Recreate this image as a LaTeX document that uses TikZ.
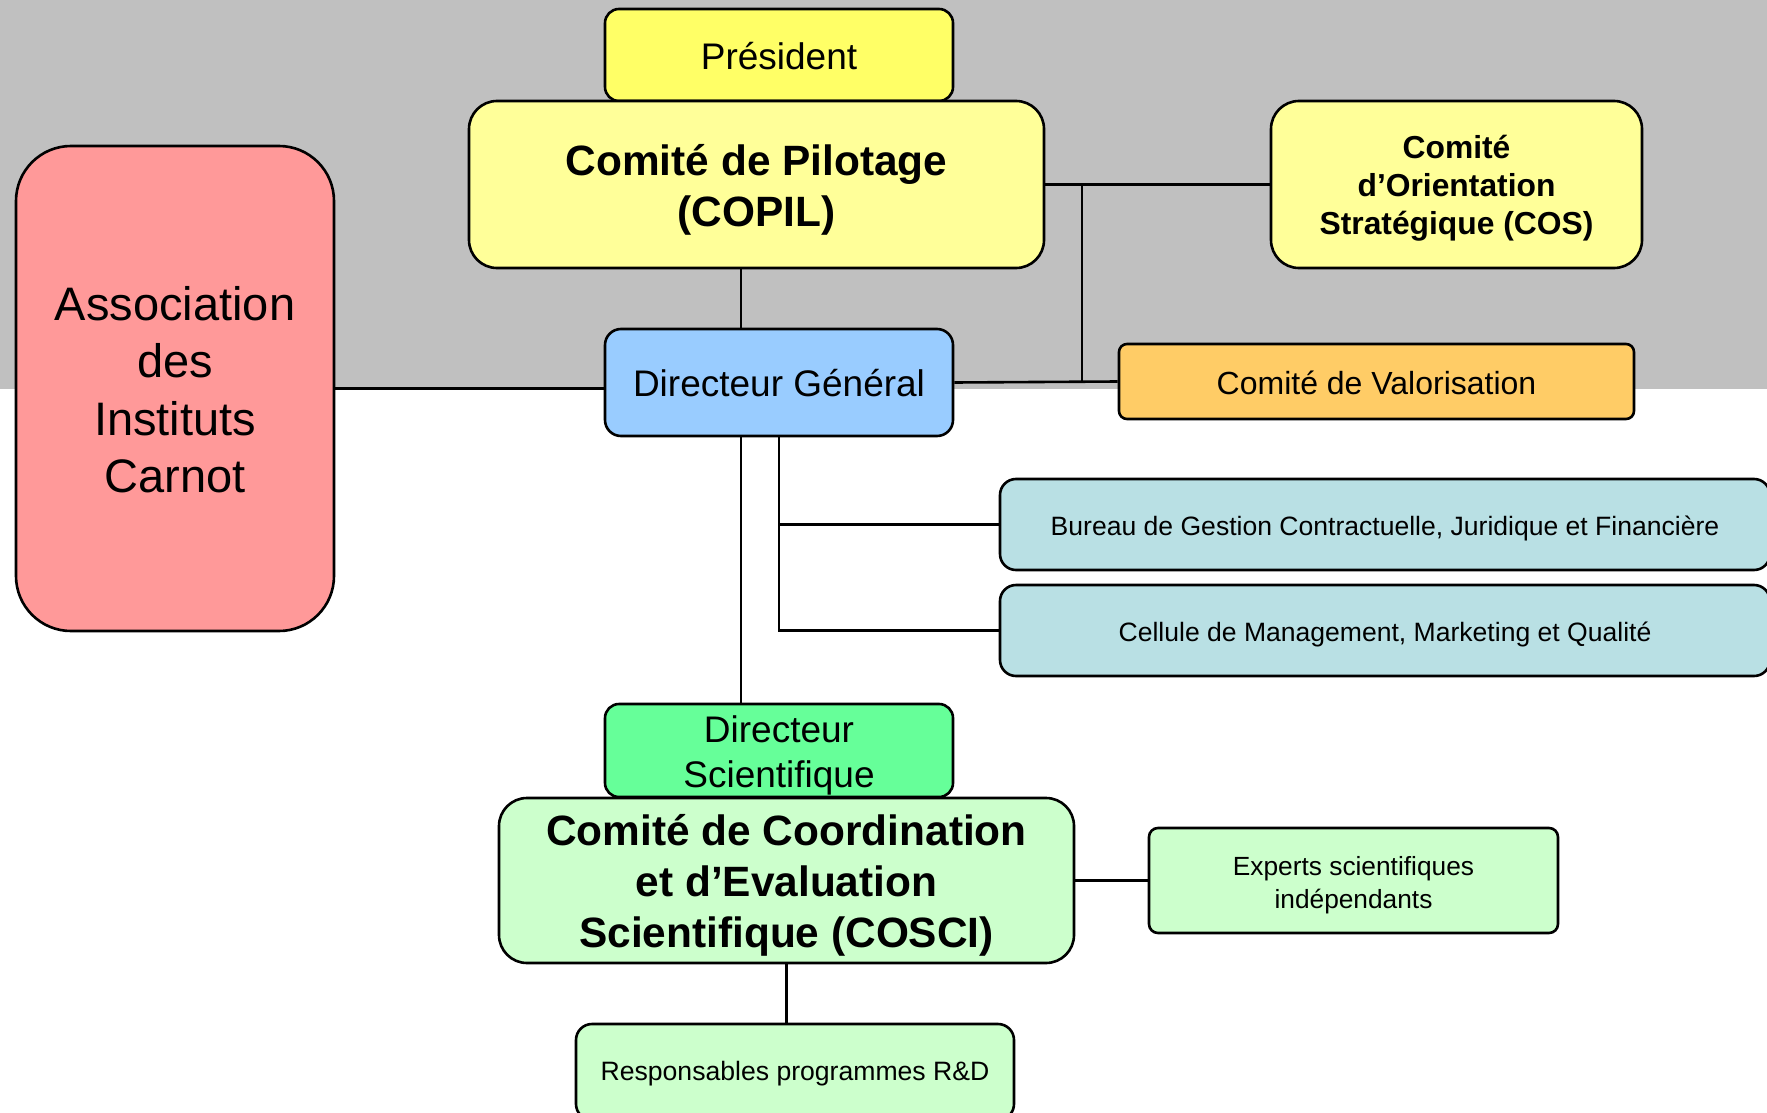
\documentclass[tikz,border=0pt]{standalone}
\usepackage{fontspec}
\setmainfont{Liberation Sans}
\definecolor{bggray}{HTML}{C0C0C0}
\definecolor{presy}{HTML}{FFFF66}
\definecolor{lighty}{HTML}{FFFF99}
\definecolor{assocred}{HTML}{FF9999}
\definecolor{dgblue}{HTML}{99CCFF}
\definecolor{valor}{HTML}{FFCC66}
\definecolor{teal}{HTML}{B9E0E4}
\definecolor{dsgreen}{HTML}{66FF99}
\definecolor{lgreen}{HTML}{CCFFCC}
\newcommand{\dn}[2]{\raisebox{-#1}[\height][\depth]{#2}}
\tikzset{
  box/.style={draw=black, line width=2.6pt, rectangle, inner sep=0pt, align=center, text=black},
  conn/.style={draw=black, line width=2.6pt},
}
\begin{document}
\begin{tikzpicture}[x=1pt,y=-1pt]
\useasboundingbox (0,0) rectangle (1767,1113);
\fill[bggray] (0,0) rectangle (1767,389);
% nodes
\node[box, fill=presy, rounded corners=14pt, minimum width=348pt, minimum height=92pt,
  font=\fontsize{37}{45}\selectfont] (pres) at (779,55) {\dn{1.5pt}{Président}};
\node[box, fill=lighty, rounded corners=28pt, minimum width=575pt, minimum height=167pt,
  font=\fontsize{42.4}{51}\selectfont\bfseries] (copil) at (756.5,184.5)
  {\dn{5.5pt}{Comité de Pilotage}\\\dn{5.5pt}{(COPIL)}};
\node[box, fill=lighty, rounded corners=28pt, minimum width=371pt, minimum height=167pt,
  font=\fontsize{31.8}{38}\selectfont\bfseries] (cos) at (1456.5,184.5)
  {\dn{4pt}{Comité}\\\dn{4pt}{d’Orientation}\\\dn{4pt}{Stratégique (COS)}};
\node[box, fill=assocred, rounded corners=55pt, minimum width=318pt, minimum height=485pt,
  font=\fontsize{47}{57.5}\selectfont] (assoc) at (175,388.5)
  {\dn{1pt}{Association}\\\dn{1pt}{des}\\\dn{1pt}{Instituts}\\\dn{1pt}{Carnot}};
\node[box, fill=dgblue, rounded corners=16pt, minimum width=348pt, minimum height=107pt,
  font=\fontsize{37}{45}\selectfont] (dg) at (779,382.5) {\dn{1pt}{Directeur Général}};
\node[box, fill=valor, rounded corners=8pt, minimum width=515pt, minimum height=75pt,
  font=\fontsize{32}{38}\selectfont] (val) at (1376.5,381.5) {\dn{1pt}{Comité de Valorisation}};
\node[box, fill=teal, rounded corners=16pt, minimum width=770pt, minimum height=91pt,
  font=\fontsize{26.55}{33}\selectfont] (bur) at (1385,524.5)
  {\dn{3.5pt}{Bureau de Gestion Contractuelle, Juridique et Financière}};
\node[box, fill=teal, rounded corners=16pt, minimum width=770pt, minimum height=91pt,
  font=\fontsize{26.55}{33}\selectfont] (cel) at (1385,630.5)
  {\dn{3.5pt}{Cellule de Management, Marketing et Qualité}};
\node[box, fill=dsgreen, rounded corners=14pt, minimum width=348pt, minimum height=93pt,
  font=\fontsize{37}{45}\selectfont] (ds) at (779,750.5)
  {\dn{4.5pt}{Directeur}\\\dn{4.5pt}{Scientifique}};
\node[box, fill=lgreen, rounded corners=28pt, minimum width=575pt, minimum height=165pt,
  font=\fontsize{42.4}{51}\selectfont\bfseries] (cosci) at (786.5,880.5)
  {\dn{5pt}{Comité de Coordination}\\\dn{5pt}{et d’Evaluation}\\\dn{5pt}{Scientifique (COSCI)}};
\node[box, fill=lgreen, rounded corners=9pt, minimum width=409pt, minimum height=105pt,
  font=\fontsize{26.3}{33}\selectfont] (exp) at (1353.5,880.5)
  {\dn{4.5pt}{Experts scientifiques}\\\dn{4.5pt}{indépendants}};
\node[box, fill=lgreen, rounded corners=16pt, minimum width=438pt, minimum height=96pt,
  font=\fontsize{26.6}{32}\selectfont] (resp) at (795,1072) {\dn{1.5pt}{Responsables programmes R\&D}};
% coordinates for connector columns
\coordinate (cA) at (741,0);
\coordinate (cJ) at (1082,0);
% connectors
\draw[conn] (copil.south -| cA) -- (dg.north -| cA);
\draw[conn] (copil.east) -- (cos.west);
\draw[conn] (copil.east -| cJ) -- (dg.east -| cJ);
\draw[conn] (dg.east) -- (val.west);
\draw[conn] (assoc.east) -- (dg.west |- assoc.east);
\draw[conn] (dg.south -| cA) -- (ds.north -| cA);
\draw[conn] (dg.south) |- (cel.west);
\draw[conn] (dg.south |- bur.west) -- (bur.west);
\draw[conn] (cosci.east) -- (exp.west);
\draw[conn] (cosci.south) -- (cosci.south |- resp.north);
\end{tikzpicture}
\end{document}
